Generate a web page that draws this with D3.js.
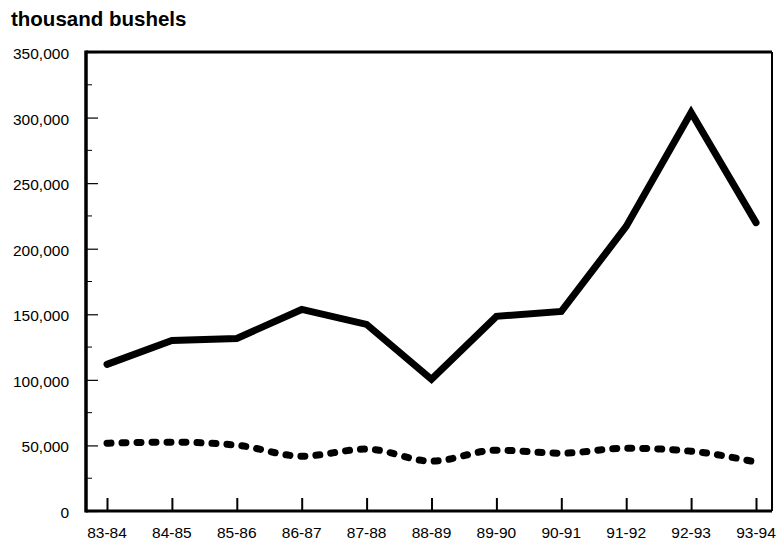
<!DOCTYPE html>
<html>
<head>
<meta charset="utf-8">
<script src="https://cdn.jsdelivr.net/npm/d3@7"></script>
<style>
	body { margin: 0; background: #fff; }
	text { font-family: "Liberation Sans", Arial, sans-serif; fill: #000; }
</style>
</head>
<body>
<div id="chart"></div>
<script>
var seasons = ['83-84', '84-85', '85-86', '86-87', '87-88', '88-89', '89-90', '90-91', '91-92', '92-93', '93-94'];
var solidValues = [111800, 130100, 131600, 153700, 142300, 100400, 148400, 152200, 217000, 303800, 219900];
var dottedValues = [51700, 52500, 50200, 41800, 47200, 38000, 46400, 44100, 47900, 45600, 37300];
var yTicks = [0, 50000, 100000, 150000, 200000, 250000, 300000, 350000];

(function () {

	var width = 776,
		height = 542;

	// plot frame
	var left = 86, right = 772, top = 52, bottom = 511;

	var svg = d3.select('#chart').append('svg')
		.attr('width', width)
		.attr('height', height);

	var xScale = d3.scalePoint()
		.domain(seasons)
		.range([107, 756]);

	var yScale = d3.scaleLinear()
		.domain([0, 350000])
		.range([bottom, top]);

	svg.append('text')
		.attr('x', 11)
		.attr('y', 26)
		.style('font-size', '20.5px')
		.style('font-weight', 'bold')
		.text('thousand bushels');

	// y axis: labels outside, ticks pointing inward
	var yAxis = svg.append('g')
		.attr('transform', 'translate(' + left + ',0)')
		.call(d3.axisRight(yScale)
			.tickValues(yTicks)
			.tickSize(12)
			.tickFormat(''));
	yAxis.select('.domain').remove();
	yAxis.selectAll('line').attr('stroke', '#000').attr('stroke-width', 1.2);

	var minor = d3.range(25000, 350000, 50000);
	svg.append('g').selectAll('line').data(minor)
		.enter().append('line')
		.attr('x1', left).attr('x2', left + 6)
		.attr('y1', function (d) { return yScale(d); })
		.attr('y2', function (d) { return yScale(d); })
		.attr('stroke', '#000').attr('stroke-width', 1);

	svg.append('g').selectAll('text').data(yTicks)
		.enter().append('text')
		.attr('x', 69)
		.attr('y', function (d) { return yScale(d) + 7; })
		.attr('text-anchor', 'end')
		.style('font-size', '15.5px')
		.text(function (d) { return d3.format(',')(d); });

	// x axis: ticks pointing up from the bottom
	var xAxis = svg.append('g')
		.attr('transform', 'translate(0,' + bottom + ')')
		.call(d3.axisTop(xScale).tickSize(13).tickFormat(''));
	xAxis.select('.domain').remove();
	xAxis.selectAll('line').attr('stroke', '#000').attr('stroke-width', 2);

	svg.append('g').selectAll('text').data(seasons)
		.enter().append('text')
		.attr('x', function (d) { return xScale(d); })
		.attr('y', 538)
		.attr('text-anchor', 'middle')
		.style('font-size', '15.5px')
		.text(function (d) { return d; });

	// frame
	svg.append('line').attr('x1', left).attr('x2', left).attr('y1', top - 1.5).attr('y2', bottom + 1.5)
		.attr('stroke', '#000').attr('stroke-width', 3.5);
	svg.append('line').attr('x1', left).attr('x2', right).attr('y1', top).attr('y2', top)
		.attr('stroke', '#000').attr('stroke-width', 3);
	svg.append('line').attr('x1', left).attr('x2', right).attr('y1', bottom).attr('y2', bottom)
		.attr('stroke', '#000').attr('stroke-width', 3);
	svg.append('line').attr('x1', right).attr('x2', right).attr('y1', top).attr('y2', bottom)
		.attr('stroke', '#000').attr('stroke-width', 2);

	var solidLine = d3.line()
		.x(function (d, i) { return xScale(seasons[i]); })
		.y(function (d) { return yScale(d); });

	var dottedLine = d3.line()
		.x(function (d, i) { return xScale(seasons[i]); })
		.y(function (d) { return yScale(d); })
		.curve(d3.curveMonotoneX);

	svg.append('path')
		.datum(solidValues)
		.attr('d', solidLine)
		.attr('fill', 'none')
		.attr('stroke', '#000')
		.attr('stroke-width', 7)
		.attr('stroke-linejoin', 'miter')
		.attr('stroke-linecap', 'round');

	svg.append('path')
		.datum(dottedValues)
		.attr('d', dottedLine)
		.attr('fill', 'none')
		.attr('stroke', '#000')
		.attr('stroke-width', 7)
		.attr('stroke-linecap', 'round')
		.attr('stroke-dasharray', '4 11');

})();
</script>
</body>
</html>
